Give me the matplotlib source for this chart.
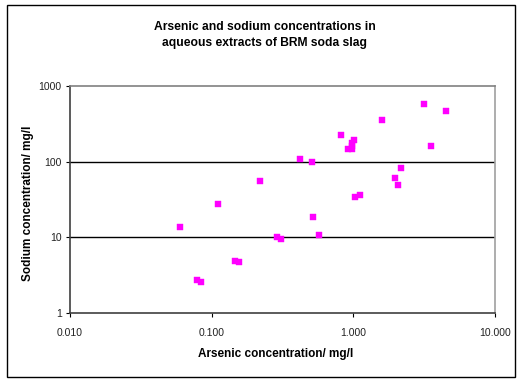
import matplotlib
matplotlib.use("Agg")
import matplotlib.pyplot as plt
from matplotlib.patches import Rectangle
from matplotlib.ticker import FixedLocator, NullLocator

plt.rcParams['font.family'] = ['Liberation Sans', 'DejaVu Sans']

arsenic = [0.418, 0.513, 0.218, 0.111, 0.519, 0.0597, 0.569, 0.288, 0.31,
           0.146, 0.157, 0.0793, 0.0841, 3.16, 4.49, 1.59, 0.815, 1.016,
           0.974, 0.983, 0.912, 0.974, 3.53, 2.17, 1.96, 2.07, 1.03, 1.11]
sodium = [109, 99, 55, 27.5, 18.7, 13.8, 10.6, 10.0, 9.55,
          4.85, 4.66, 2.69, 2.58, 583, 463, 355, 227, 191,
          175, 161, 147, 147, 162, 81.5, 60.7, 49.5, 33.7, 35.8]

x_ticks = [0.01, 0.1, 1, 10]
x_labels = ["0.010", "0.100", "1.000", "10.000"]
y_ticks = [1, 10, 100, 1000]
y_labels = ["1", "10", "100", "1000"]

W, H = 517, 379
fig = plt.figure(figsize=(W / 100, H / 100), dpi=100)
ax = fig.add_axes([70 / W, 1 - 313 / H, (495 - 70) / W, (313 - 86) / H])

ax.set_xscale('log')
ax.set_yscale('log')
ax.set_xlim(0.01, 10)
ax.set_ylim(1, 1000)

for yv in [10, 100]:
    ax.axhline(yv, color='black', lw=1.0, zorder=1)

ax.scatter(arsenic, sodium, marker='s', s=24, color='#ff00ff',
           edgecolors='#ff00ff', linewidths=0.3, zorder=3)

ax.xaxis.set_major_locator(FixedLocator(x_ticks))
ax.xaxis.set_minor_locator(NullLocator())
ax.set_xticklabels(x_labels)
ax.yaxis.set_major_locator(FixedLocator(y_ticks))
ax.yaxis.set_minor_locator(NullLocator())
ax.set_yticklabels(y_labels)
ax.tick_params(axis='both', which='major', direction='out', length=3,
               width=0.8, labelsize=7.5, colors='black', labelcolor='#222222')
ax.tick_params(axis='x', pad=8)
ax.tick_params(axis='y', pad=3)

ax.spines['left'].set_color('#404040')
ax.spines['bottom'].set_color('#404040')
ax.spines['top'].set_color('#808080')
ax.spines['right'].set_color('#a0a0a0')
for s in ax.spines.values():
    s.set_linewidth(1.2)

fig.text(265 / W, 1 - 35 / H,
         "Arsenic and sodium concentrations in\naqueous extracts of BRM soda slag",
         ha='center', va='center', fontsize=8.7, fontweight='bold',
         linespacing=1.45)
fig.text(276 / W, 1 - 354 / H, "Arsenic concentration/ mg/l",
         ha='center', va='center', fontsize=8.5, fontweight='bold')
fig.text(28 / W, 1 - 203 / H, "Sodium concentration/ mg/l",
         ha='center', va='center', fontsize=8.5, fontweight='bold',
         rotation=90)

fig.patches.append(Rectangle((7 / W, 1 - 377 / H), (515 - 7) / W, (377 - 5) / H,
                             transform=fig.transFigure, fill=False,
                             edgecolor='black', lw=1.0))

fig.savefig("out.png", dpi=100)
